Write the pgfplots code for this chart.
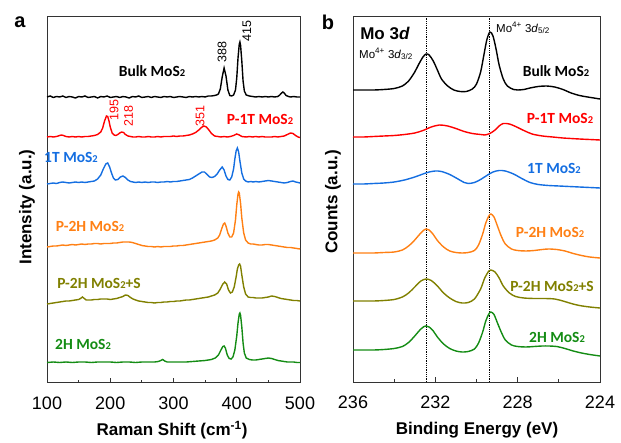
\documentclass[border=0pt]{standalone}
\usepackage{fontspec}
\setmainfont{Liberation Sans}
\newfontfamily\lab{Carlito}
\usepackage{pgfplots}
\pgfplotsset{compat=1.18}

\definecolor{cblue}{RGB}{20,110,225}
\definecolor{corange}{RGB}{255,128,20}
\definecolor{colive}{RGB}{128,128,0}
\definecolor{cgreen}{RGB}{20,140,20}

\newcommand\mos{MoS{\fontsize{10.5}{10.5}\selectfont 2}}

\pgfplotsset{
  panel/.style={
    scale only axis, anchor=south west,
    axis line style={line width=1pt, black!80},
    ytick=\empty, xtick pos=bottom, tick align=inside,
    major tick length=5pt, minor tick length=3pt,
    tick style={line width=0.8pt, black!80},
    xticklabel style={font=\fontsize{18}{18}\selectfont, yshift=-10pt},
    /pgf/number format/assume math mode=true,
    /pgf/number format/1000 sep={},
    every axis plot/.append style={line width=1.4pt},
    clip=false,
  }
}

\begin{document}
\begin{tikzpicture}
\path[use as bounding box] (0pt,0pt) rectangle (621pt,442pt);

% ---- panel a: Raman ----
\begin{axis}[panel, at={(47pt,59pt)}, width=253pt, height=366pt,
  xmin=100, xmax=500, ymin=0, ymax=366,
  xtick={100,200,300,400,500}, minor xtick={150,250,350,450}]
% Bulk
\addplot[black] coordinates {
(100,286)(105,287)(110,285.5)(115,286.5)(120,286)(125,287)(130,285.5)(135,286.5)(140,286)(145,285)
(150,286.5)(155,286)(160,287)(165,285.5)(170,286)(175,286.5)(180,285)(185,286.5)(190,286)(195,287)
(200,285.5)(205,286)(210,286.5)(215,285.5)(220,286.5)(225,286)(230,285)(235,286.5)(240,286)(245,287)
(250,285.5)(255,286)(260,286.5)(265,285.5)(270,286.5)(275,286)(280,285.5)(285,286.5)(290,286)(295,286.5)
(300,285.5)(305,286)(310,286.5)(315,286)(320,285.5)(325,286.5)(330,286)(335,286.5)(340,286)(345,286.5)
(350,286)(355,287)(360,287)(365,287.5)(368,288)(371,289)(374,294)(377,306)(380,315)(383,307)(386,293)
(389,287.5)(392,287)(395,288)(398,293)(400,305)(402,325)(404,339)(405,341)(406,338)(408,322)(410,302)
(412,292)(415,288)(420,287)(425,286.5)(430,286)(435,286.5)(440,286)(445,286.5)(450,286)(455,286.5)
(460,286)(465,286.5)(468,288)(471,290)(473,291)(475,290)(478,287.5)(482,286.5)(485,286)(490,286.5)
(495,286)(500,286)};
% P-1T
\addplot[red] coordinates {
(100,246)(105,246.5)(110,246)(115,246.5)(120,247.5)(123,248)(126,247.5)(130,246.5)(135,246)(140,246.5)
(145,246)(150,246.5)(155,246)(160,246.5)(165,246.5)(170,247)(175,247.5)(180,248.5)(185,251)(188,255)
(191,262)(194,267)(196,266.5)(198,262)(200,256)(203,250)(206,248)(209,247.5)(212,248.5)(215,250)
(218,251)(221,250.5)(224,248.5)(228,247)(232,246.5)(236,246)(240,246)(245,246.5)(250,246)(255,246)
(260,246.5)(265,246)(270,246)(275,246.5)(280,246)(285,246.5)(290,246.5)(295,246.5)(300,247)(305,246.5)
(310,247)(315,247)(320,247.5)(325,248)(330,249)(335,250.5)(340,253)(344,255.5)(348,257)(352,256)
(356,253)(360,249.5)(365,247)(370,246.5)(375,246)(380,246.5)(385,246)(390,246.5)(395,247.5)(400,249)
(404,248)(408,246.5)(415,246)(420,246.5)(425,246)(430,246.5)(435,246)(440,246.5)(445,246)(450,246)
(455,246)(460,246.5)(465,246)(470,246.5)(475,247)(480,248.5)(485,250)(489,249.5)(493,247.5)(497,246)
(500,245.5)};
% 1T
\addplot[cblue] coordinates {
(100,199)(105,199.5)(110,200)(115,199.5)(120,200.5)(125,201)(130,200.5)(135,200)(140,200.5)(145,201)
(150,200.5)(155,201)(160,200.5)(165,201)(170,201.5)(175,202)(180,204)(185,208)(189,214)(193,219)
(196,220)(199,216)(202,210)(205,205)(208,203)(212,203.5)(216,206)(220,207)(224,205.5)(228,203)
(232,201.5)(236,201)(240,200.5)(245,201)(250,200.5)(255,201)(260,200.5)(265,201)(270,201)(275,200.5)
(280,201)(285,201)(290,201.5)(295,201)(300,201.5)(305,201.5)(310,202)(315,202.5)(320,203)(325,203.5)
(330,205)(335,207)(340,209)(345,211)(349,211)(353,208.5)(357,206)(361,205.5)(365,206.5)(369,209)
(373,213)(377,216)(380,213)(383,207)(386,203.5)(389,203)(392,206)(395,214)(397,224)(399,232)(401,235)
(403,231)(405,222)(408,210)(411,204)(414,202)(418,201)(422,201.5)(426,201)(430,201.5)(435,201)
(440,201.5)(445,202)(450,202.5)(455,202)(460,201.5)(465,201)(470,200.5)(475,200)(480,200.5)(485,201.5)
(489,202)(493,201)(497,200.5)(500,200)};
% P-2H
\addplot[corange] coordinates {
(100,136)(105,136.5)(110,137)(115,137)(120,137.5)(125,138)(130,137.5)(135,138)(140,138.5)(145,138)
(150,138.5)(155,139)(160,138.5)(165,139)(170,139)(175,139.5)(180,139.5)(185,139)(190,139.5)(195,139.5)
(200,139.5)(205,140)(210,140)(215,140.5)(220,141)(225,141)(230,141)(235,140.5)(240,139.5)(245,138.5)
(250,137.5)(255,137)(260,136.5)(265,136.5)(270,136)(275,136.5)(280,136)(285,136.5)(290,136.5)(295,136.5)
(300,137)(305,137)(310,137.5)(315,137.5)(320,138)(325,138.5)(330,139)(335,139.5)(340,140)(345,140.5)
(350,141)(355,141.5)(360,142)(365,143)(370,145)(373,148)(376,154)(379,159)(381,160)(383,157)(386,150)
(389,146)(392,146)(395,150)(398,163)(400,178)(402,189)(403,191)(404,190)(406,180)(408,165)(411,150)
(414,143)(418,140)(422,139)(426,139)(430,138.5)(435,138)(440,138)(445,138.5)(450,138.5)(455,138)
(460,137.5)(465,137)(470,136.5)(475,136)(480,135.5)(485,135.5)(490,135)(495,134.5)(500,134)};
% P-2H+S
\addplot[colive] coordinates {
(100,79)(105,79.5)(110,80)(115,80.5)(120,81)(125,81.5)(130,82)(135,82)(140,82.5)(145,83)(150,83.5)
(153,84.5)(156,86)(159,84.5)(162,83)(166,83)(170,83)(175,83.5)(180,83.5)(185,84)(190,84)(195,84)
(200,83.5)(205,84)(210,84.5)(215,85.5)(220,86.5)(224,88)(228,87.5)(232,85.5)(236,84)(240,83)(245,82)
(250,81.5)(255,81)(260,80.5)(265,80.5)(270,80)(275,80.5)(280,80.5)(285,81)(290,81)(295,81.5)(300,81.5)
(305,82)(310,82)(315,82.5)(320,83)(325,83)(330,83.5)(335,84)(340,84.5)(345,85)(350,85.5)(355,86)
(360,87)(365,88)(370,90)(374,94)(378,99)(381,101)(384,99)(387,93)(390,90)(393,91)(396,96)(399,106)
(401,114)(403,118)(404.5,119)(406,117)(408,108)(411,96)(414,89)(418,86)(422,85.5)(426,85.5)(430,85)
(435,85)(440,85)(445,85.5)(450,86)(455,87)(460,86.5)(465,85.5)(470,84.5)(475,84)(480,83.5)(485,83)
(490,82.5)(495,82.5)(500,82)};
% 2H
\addplot[cgreen] coordinates {
(100,20.5)(110,21)(120,20.5)(130,21)(140,20.5)(150,21)(160,21)(170,20.5)(180,21)(190,21)(200,21)
(210,20.5)(220,21)(230,21)(240,20.5)(250,21)(260,21)(270,21)(276,21.5)(280,22.5)(283,23.5)(286,22)
(290,21)(300,21)(310,21)(320,21)(330,21.5)(340,22)(350,22.5)(360,23.5)(366,25)(371,28)(375,33)
(378,36.5)(380,37)(382,35)(385,28)(388,24.5)(391,24)(394,26)(397,33)(400,47)(402,60)(404,69)(405,70)
(406,68)(408,56)(410,40)(412,30)(415,25)(420,23.5)(425,23)(430,23)(435,23.5)(440,24)(445,24.5)
(450,25)(455,24.5)(460,23.5)(465,22.5)(470,22)(475,21.5)(480,21)(485,21)(490,21)(495,20.5)(500,20.5)};
\end{axis}

% ---- panel b: XPS ----
\begin{axis}[panel, at={(353pt,60pt)}, width=247pt, height=365pt,
  x dir=reverse, xmin=224, xmax=236, ymin=0, ymax=365,
  xtick={224,228,232,236}, minor xtick={226,230,234}]
\addplot[black, line width=0.8pt, densely dotted] coordinates {(232.45,0)(232.45,365)};
\addplot[black, line width=0.8pt, densely dotted] coordinates {(229.35,0)(229.35,365)};
\addplot[black, smooth] coordinates {
(236,292)(235.5,292)(235,292)(234.5,292.5)(234,293.5)(233.6,296)(233.3,301)(233,310)(232.8,318)
(232.6,325)(232.45,328)(232.3,327)(232.1,321)(231.9,312)(231.7,303)(231.4,296)(231.1,292)(230.8,290.5)
(230.5,290.5)(230.2,293)(230,298)(229.8,310)(229.65,326)(229.5,342)(229.35,350)(229.2,346)(229.05,333)
(228.9,317)(228.7,303)(228.5,296)(228.2,292.5)(228,292)(227.7,292.5)(227.4,294)(227,295.5)(226.6,296)
(226.2,295)(225.8,292.5)(225.4,289)(225,286.5)(224.6,285)(224.3,284)(224,283)};
\addplot[red, smooth] coordinates {
(236,245)(235.5,245)(235,245.5)(234.5,246)(234,246.5)(233.5,247.5)(233,249)(232.6,251.5)(232.2,255)
(231.8,257)(231.4,256)(231,253.5)(230.6,250.5)(230.2,248.5)(229.8,247.5)(229.6,247)(229.35,248.5)
(229.1,252)(228.9,256)(228.7,258.5)(228.4,258)(228.1,255.5)(227.7,251.5)(227.3,248)(226.8,246)
(226.3,245)(225.8,244)(225,243)(224.5,242.5)(224,242)};
\addplot[cblue, smooth] coordinates {
(236,198)(235.5,198)(235,198.5)(234.5,199)(234,200)(233.5,202)(233,205)(232.6,208)(232.3,210)(232,211)
(231.7,210.5)(231.3,207.5)(230.9,203)(230.6,199.5)(230.4,198.5)(230.1,199.5)(229.8,202.5)(229.5,206.5)
(229.2,210)(228.9,211.5)(228.6,211)(228.2,208)(227.8,203.5)(227.4,199.5)(227,197.5)(226.5,196.5)
(226,196)(225.5,195.5)(225,195)(224.5,194.5)(224,194)};
\addplot[corange, smooth] coordinates {
(236,129)(235.5,129)(235,129)(234.5,129.5)(234,130)(233.6,132)(233.3,136)(233,142)(232.75,148)
(232.55,152)(232.45,153)(232.3,152)(232.1,147.5)(231.9,141.5)(231.6,135)(231.3,131)(231,129.5)
(230.7,129)(230.4,129.5)(230.1,131.5)(229.9,137)(229.7,148)(229.55,159)(229.4,166)(229.3,168)
(229.15,165)(229,157)(228.8,146)(228.6,138)(228.3,133)(228,131.5)(227.6,131)(227.2,131.5)(226.8,132.5)
(226.5,133)(226.1,132.5)(225.7,131)(225.3,128.5)(224.9,126.5)(224.5,125)(224,124)};
\addplot[colive, smooth] coordinates {
(236,81)(235.5,81)(235,81)(234.5,81.5)(234,82.5)(233.6,85)(233.3,89)(233,95)(232.7,101)(232.45,103)
(232.2,101.5)(231.9,96)(231.6,89)(231.3,84)(231,80.5)(230.7,79)(230.4,79.5)(230.1,83)(229.8,93)
(229.6,104)(229.4,111)(229.3,112)(229.1,110)(228.9,104)(228.7,96)(228.4,89)(228.1,85.5)(227.7,84)
(227.2,83.5)(226.7,83.5)(226.2,83)(225.8,81)(225.4,78.5)(225,76.5)(224.5,75)(224,74)};
\addplot[cgreen, smooth] coordinates {
(236,32)(235.5,32)(235,32)(234.5,32.5)(234,33.5)(233.6,35.5)(233.3,39.5)(233,46)(232.75,52)(232.55,55.5)
(232.45,56)(232.3,55)(232.1,51)(231.9,45)(231.6,38)(231.3,33.5)(231,31)(230.7,30)(230.4,30.5)(230.1,33)
(229.9,39)(229.7,50)(229.55,61)(229.4,68)(229.3,70)(229.15,67.5)(229,60)(228.8,50)(228.6,42)(228.3,37)
(228,35.5)(227.6,35)(227.2,35.5)(226.8,36)(226.5,36)(226.1,35.5)(225.7,33.5)(225.3,31)(224.9,29)
(224.5,27.5)(224,26)};
\end{axis}

% ---- text (picture coordinates in pt = px, y from bottom) ----
\node[font=\bfseries\fontsize{20}{20}\selectfont] at (20pt,420pt) {a};
\node[font=\bfseries\fontsize{20}{20}\selectfont] at (328pt,420pt) {b};
\node[font=\bfseries\fontsize{17}{17}\selectfont] at (172pt,12pt) {Raman Shift (cm\textsuperscript{-1})};
\node[font=\bfseries\fontsize{17}{17}\selectfont] at (477pt,12pt) {Binding Energy (eV)};
\node[font=\bfseries\fontsize{17}{17}\selectfont, rotate=90] at (27pt,235pt) {Intensity (a.u.)};
\node[font=\bfseries\fontsize{17}{17}\selectfont, rotate=90] at (333pt,240pt) {Counts (a.u.)};

% peak labels a
\begin{scope}[font=\fontsize{12.5}{12.5}\selectfont]
\node[rotate=90] at (222pt,390pt) {388};
\node[rotate=90] at (247pt,411pt) {415};
\node[rotate=90, red] at (114pt,332pt) {195};
\node[rotate=90, red] at (128.5pt,326pt) {218};
\node[rotate=90, red] at (200pt,326pt) {351};
\end{scope}

% series labels
\begin{scope}[font=\lab\bfseries\fontsize{15.5}{15.5}\selectfont]
\node at (152pt,371pt) {Bulk \mos};
\node[red] at (260pt,323pt) {P-1T \mos};
\node[cblue] at (71pt,285pt) {1T \mos};
\node[corange] at (90pt,216pt) {P-2H \mos};
\node[colive] at (99pt,159pt) {P-2H \mos+S};
\node[cgreen] at (83pt,98pt) {2H \mos};
\node at (556pt,371pt) {Bulk \mos};
\node[red] at (560pt,324pt) {P-1T \mos};
\node[cblue] at (554pt,274pt) {1T \mos};
\node[corange] at (550pt,210pt) {P-2H \mos};
\node[colive] at (552pt,156pt) {P-2H \mos+S};
\node[cgreen] at (557pt,105pt) {2H \mos};
\end{scope}

\node[font=\bfseries\fontsize{17}{17}\selectfont] at (385pt,409pt) {Mo 3\textit{d}};
\node[font=\fontsize{11.5}{11.5}\selectfont] at (386pt,388pt) {Mo\textsuperscript{4+} 3\textit{d}\textsubscript{3/2}};
\node[font=\fontsize{11.5}{11.5}\selectfont] at (523pt,414pt) {Mo\textsuperscript{4+} 3\textit{d}\textsubscript{5/2}};
\end{tikzpicture}
\end{document}
